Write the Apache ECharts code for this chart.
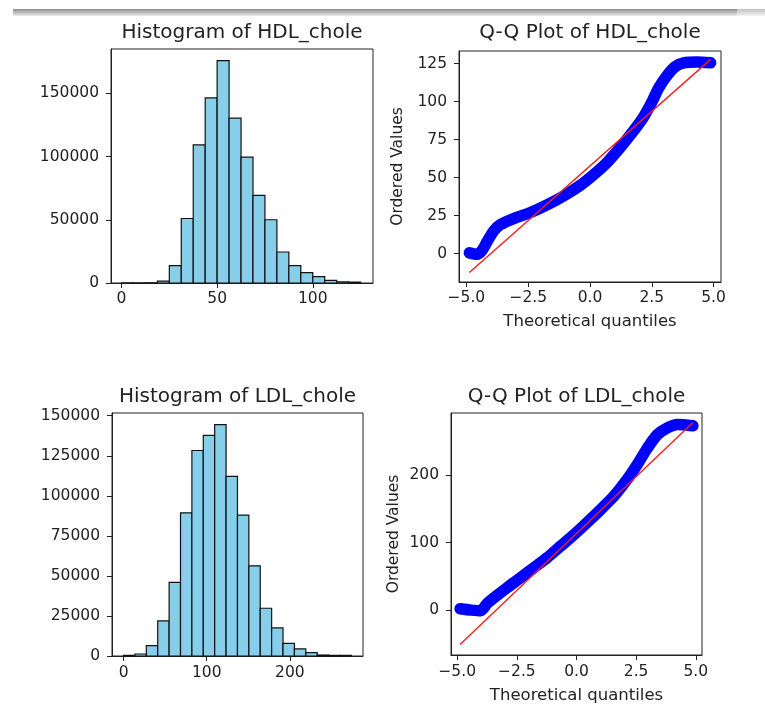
<!DOCTYPE html>
<html>
<head>
<meta charset="utf-8">
<title>HDL / LDL cholesterol distribution</title>
<script src="https://cdn.jsdelivr.net/npm/echarts@6.0.0/dist/echarts.min.js"></script>
<style>
  html, body { margin: 0; padding: 0; background: #fff; }
  #chart { width: 765px; height: 705px; }
</style>
</head>
<body>
<div id="chart"></div>
<script>
// histogram bins (20 bins each)
const hdlEdges = [0, 6.25, 12.5, 18.75, 25, 31.25, 37.5, 43.75, 50, 56.25, 62.5, 68.75, 75, 81.25, 87.5, 93.75, 100, 106.25, 112.5, 118.75, 125]
const hdlCounts = [60, 40, 150, 1500, 13700, 51000, 109200, 146300, 175800, 130300, 99500, 69200, 50000, 24500, 13700, 8200, 5000, 2100, 1000, 700]
const ldlEdges = [0, 13.7, 27.4, 41.1, 54.8, 68.5, 82.2, 95.9, 109.6, 123.3, 137, 150.7, 164.4, 178.1, 191.8, 205.5, 219.2, 232.9, 246.6, 260.3, 274]
const ldlCounts = [400, 1250, 6500, 21900, 46000, 89400, 128300, 137700, 144400, 112100, 87900, 56300, 29800, 17500, 7900, 4400, 2100, 600, 400, 400]

// Q-Q points (theoretical quantile, ordered value)
const hdlQqX = [-4.88, -4.57, -4.37, -4.16, -3.89, -3.63, -3.09, -2.41, -1.74, -1.06, -0.39, 0.15, 0.69, 1.23, 1.77, 2.17, 2.51, 2.78, 3.11, 3.45, 3.79, 4.33, 4.88]
const hdlQqY = [0.5, -0.5, 2, 8, 15, 19, 23, 27, 32, 38, 45, 52, 60, 70, 81, 90, 100, 109, 117, 123, 125.5, 126, 125.5]
const ldlQqX = [-4.88, -4.4, -4.02, -3.74, -3.32, -2.9, -2.34, -1.78, -1.22, -0.66, -0.1, 0.45, 1.01, 1.57, 2.13, 2.55, 2.97, 3.39, 3.81, 4.23, 4.88]
const ldlQqY = [2, 0, -1, 10, 22, 33.5, 48, 63, 78, 95, 112, 130, 149, 169, 194, 216, 240, 260, 270, 275, 273]
// fitted reference lines (end points)
const hdlFitX = [-4.88, 4.88]
const hdlFitY = [-12.5, 127.8]
const ldlFitX = [-4.88, 4.88]
const ldlFitY = [-51, 278]

// tick labels
const hdlBinTicks = [0, 50, 100]
const ldlBinTicks = [0, 100, 200]
const hdlCountTicks = [0, 50000, 100000, 150000]
const ldlCountTicks = [0, 25000, 50000, 75000, 100000, 125000, 150000]
const qqXTicks = [-5, -2.5, 0, 2.5, 5]
const hdlQqYTicks = [0, 25, 50, 75, 100, 125]
const ldlQqYTicks = [0, 100, 200]

const FONT = 'DejaVu Sans'
const INK = '#222222'

const plain = v => String(v)
const oneDec = v => v.toFixed(1).replace('-', '\u2212')

function axis (gridIndex, min, max, ticks, fmt, margin, extra) {
  return Object.assign({
    type: 'value',
    gridIndex,
    min,
    max,
    axisLine: { show: true, onZero: false, lineStyle: { color: INK, width: 1 } },
    axisTick: { show: true, length: 5, customValues: ticks, lineStyle: { color: INK, width: 1 } },
    axisLabel: { customValues: ticks, formatter: fmt, color: INK, fontFamily: FONT, fontSize: 15.5, margin },
    splitLine: { show: false }
  }, extra || {})
}

function histSeries (idx, edges, counts) {
  const data = counts.map((c, i) => [edges[i], edges[i + 1], c])
  return {
    type: 'custom',
    xAxisIndex: idx,
    yAxisIndex: idx,
    silent: true,
    encode: { x: [0, 1], y: 2 },
    data,
    renderItem (params, api) {
      const p0 = api.coord([api.value(0), api.value(2)])
      const p1 = api.coord([api.value(1), 0])
      return {
        type: 'rect',
        shape: { x: p0[0], y: p0[1], width: p1[0] - p0[0], height: p1[1] - p0[1] },
        style: { fill: '#87ceeb', stroke: '#111111', lineWidth: 1.2 }
      }
    }
  }
}

function pairs (xs, ys) {
  return xs.map((x, i) => [x, ys[i]])
}

function qqSeries (idx, xs, ys) {
  return {
    type: 'line',
    xAxisIndex: idx,
    yAxisIndex: idx,
    data: pairs(xs, ys),
    showSymbol: false,
    smooth: 0.25,
    silent: true,
    lineStyle: { color: '#0000ff', width: 11.5, cap: 'round', join: 'round' }
  }
}

function fitSeries (idx, xs, ys) {
  return {
    type: 'line',
    xAxisIndex: idx,
    yAxisIndex: idx,
    data: pairs(xs, ys),
    showSymbol: false,
    silent: true,
    lineStyle: { color: '#f02020', width: 1.4 }
  }
}

const titleStyle = { fontFamily: FONT, fontSize: 20, fontWeight: 'normal', color: INK }
const nameStyle = { fontFamily: FONT, fontSize: 16.5, color: INK }
const yNameStyle = { fontFamily: FONT, fontSize: 15.5, color: INK }
const gridBox = { show: true, borderColor: INK, borderWidth: 1, backgroundColor: 'transparent' }

const chart = echarts.init(document.getElementById('chart'), null, { renderer: 'canvas' })

chart.setOption({
  backgroundColor: '#ffffff',
  animation: false,
  title: [
    { text: 'Histogram of HDL_chole', left: 242, top: 23, textAlign: 'center', padding: 0, textStyle: titleStyle },
    { text: 'Q-Q Plot of HDL_chole', left: 590, top: 23, textAlign: 'center', padding: 0, textStyle: titleStyle },
    { text: 'Histogram of LDL_chole', left: 237.5, top: 387, textAlign: 'center', padding: 0, textStyle: titleStyle },
    { text: 'Q-Q Plot of LDL_chole', left: 576.5, top: 387, textAlign: 'center', padding: 0, textStyle: titleStyle }
  ],
  grid: [
    Object.assign({ left: 111, top: 49, width: 262, height: 234 }, gridBox),
    Object.assign({ left: 459, top: 51, width: 262, height: 231 }, gridBox),
    Object.assign({ left: 112, top: 413, width: 251, height: 243 }, gridBox),
    Object.assign({ left: 451, top: 413, width: 251, height: 243 }, gridBox)
  ],
  xAxis: [
    axis(0, -5.5, 131.5, hdlBinTicks, plain, 8),
    axis(1, -5.3, 5.3, qqXTicks, oneDec, 8, {
      name: 'Theoretical quantiles', nameLocation: 'middle', nameGap: 31, nameTextStyle: nameStyle
    }),
    axis(2, -13.9, 288, ldlBinTicks, plain, 9),
    axis(3, -5.26, 5.26, qqXTicks, oneDec, 9, {
      name: 'Theoretical quantiles', nameLocation: 'middle', nameGap: 32, nameTextStyle: nameStyle
    })
  ],
  yAxis: [
    axis(0, 0, 185000, hdlCountTicks, plain, 12),
    axis(1, -18.7, 133.3, hdlQqYTicks, plain, 12, {
      name: 'Ordered Values', nameLocation: 'middle', nameGap: 53, nameTextStyle: yNameStyle
    }),
    axis(2, 0, 151700, ldlCountTicks, plain, 12),
    axis(3, -66.5, 292, ldlQqYTicks, plain, 12, {
      name: 'Ordered Values', nameLocation: 'middle', nameGap: 49, nameTextStyle: yNameStyle
    })
  ],
  series: [
    histSeries(0, hdlEdges, hdlCounts),
    qqSeries(1, hdlQqX, hdlQqY),
    fitSeries(1, hdlFitX, hdlFitY),
    histSeries(2, ldlEdges, ldlCounts),
    qqSeries(3, ldlQqX, ldlQqY),
    fitSeries(3, ldlFitX, ldlFitY)
  ],
  graphic: [
    {
      type: 'rect',
      silent: true,
      shape: { x: 13, y: 9, width: 752, height: 7 },
      style: {
        fill: new echarts.graphic.LinearGradient(0, 0, 0, 1, [
          { offset: 0, color: '#8c8c8c' },
          { offset: 1, color: '#ebebeb' }
        ])
      }
    },
    {
      type: 'rect',
      silent: true,
      shape: { x: 737, y: 9, width: 28, height: 7 },
      style: { fill: 'rgba(255,255,255,0.45)' }
    }
  ]
})

window.addEventListener('resize', () => {
  chart.resize()
})
</script>
</body>
</html>
